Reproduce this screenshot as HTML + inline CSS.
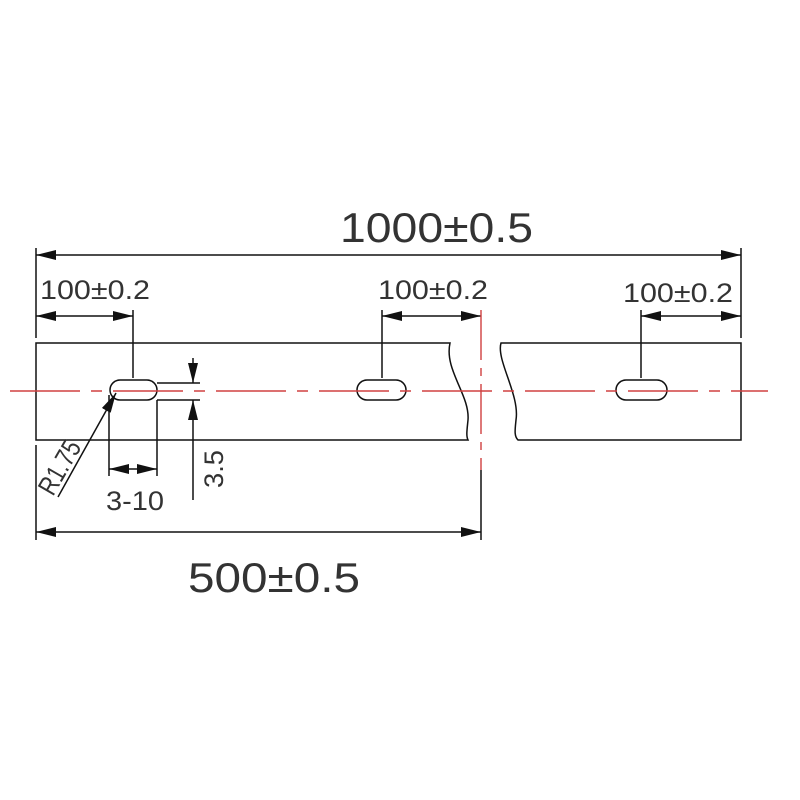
<!DOCTYPE html>
<html><head><meta charset="utf-8"><style>
html,body{margin:0;padding:0;background:#fff;}
svg{display:block;}
text{font-family:"Liberation Sans",sans-serif;fill:#333;}
</style></head><body>
<svg width="800" height="800" viewBox="0 0 800 800" xmlns="http://www.w3.org/2000/svg">
<defs>
<marker id="a" viewBox="0 0 20 10" refX="20" refY="5" markerWidth="20" markerHeight="10" orient="auto-start-reverse" markerUnits="userSpaceOnUse">
<path d="M0,0 L20,5 L0,10 z" fill="#111"/></marker>
</defs>
<g stroke="#111" stroke-width="1.5" fill="none">
<path d="M36,343 H450 C444,370 470,395 468,420 C467,430 466,436 468,440 H36 Z"/>
<path d="M741,343 H501 C496,360 520,395 516,420 C515,430 514,436 518,440 H741 Z"/>
<rect x="110" y="380" width="47" height="20" rx="10"/>
<rect x="357" y="380" width="49" height="20" rx="10"/>
<rect x="616" y="380" width="51" height="20" rx="10"/>
<line x1="36" y1="248" x2="36" y2="338"/>
<line x1="36" y1="445" x2="36" y2="540"/>
<line x1="741" y1="248" x2="741" y2="338"/>
<line x1="133" y1="310" x2="133" y2="378"/>
<line x1="382" y1="310" x2="382" y2="378"/>
<line x1="641" y1="310" x2="641" y2="378"/>
<line x1="481" y1="470" x2="481" y2="540"/>
<line x1="36" y1="255" x2="741" y2="255" marker-start="url(#a)" marker-end="url(#a)"/>
<line x1="36" y1="316" x2="133" y2="316" marker-start="url(#a)" marker-end="url(#a)"/>
<line x1="382" y1="316" x2="481" y2="316" marker-start="url(#a)" marker-end="url(#a)"/>
<line x1="641" y1="316" x2="741" y2="316" marker-start="url(#a)" marker-end="url(#a)"/>
<line x1="36" y1="532" x2="481" y2="532" marker-start="url(#a)" marker-end="url(#a)"/>
<line x1="109" y1="395" x2="109" y2="476"/>
<line x1="157" y1="400" x2="157" y2="476"/>
<line x1="109" y1="469" x2="157" y2="469" marker-start="url(#a)" marker-end="url(#a)"/>
<line x1="157" y1="383" x2="200" y2="383"/>
<line x1="157" y1="400" x2="200" y2="400"/>
<line x1="193" y1="358" x2="193" y2="383" marker-end="url(#a)"/>
<line x1="193" y1="500" x2="193" y2="400" marker-end="url(#a)"/>
<line x1="58" y1="497" x2="116" y2="393" marker-end="url(#a)"/>
</g>
<g stroke="#d04040" stroke-width="1.4" fill="none">
<line x1="10" y1="391" x2="768" y2="391" stroke-dasharray="70,11,11,11"/>
<line x1="481" y1="310" x2="481" y2="470" stroke-dasharray="50,8,8,8"/>
</g>
<g font-size="42">
<text x="340" y="242" textLength="193" lengthAdjust="spacingAndGlyphs">1000±0.5</text>
<text x="188" y="592" textLength="172" lengthAdjust="spacingAndGlyphs">500±0.5</text>
</g>
<g font-size="27">
<text x="40" y="299" textLength="110" lengthAdjust="spacingAndGlyphs">100±0.2</text>
<text x="378" y="299" textLength="110" lengthAdjust="spacingAndGlyphs">100±0.2</text>
<text x="623" y="302" textLength="110" lengthAdjust="spacingAndGlyphs">100±0.2</text>
<text x="106" y="510" textLength="58" lengthAdjust="spacingAndGlyphs">3-10</text>
<text transform="translate(223,488) rotate(-90)" textLength="38" lengthAdjust="spacingAndGlyphs">3.5</text>
<text transform="translate(53,497) rotate(-60)" textLength="58" lengthAdjust="spacingAndGlyphs">R1.75</text>
</g>
</svg>
</body></html>
